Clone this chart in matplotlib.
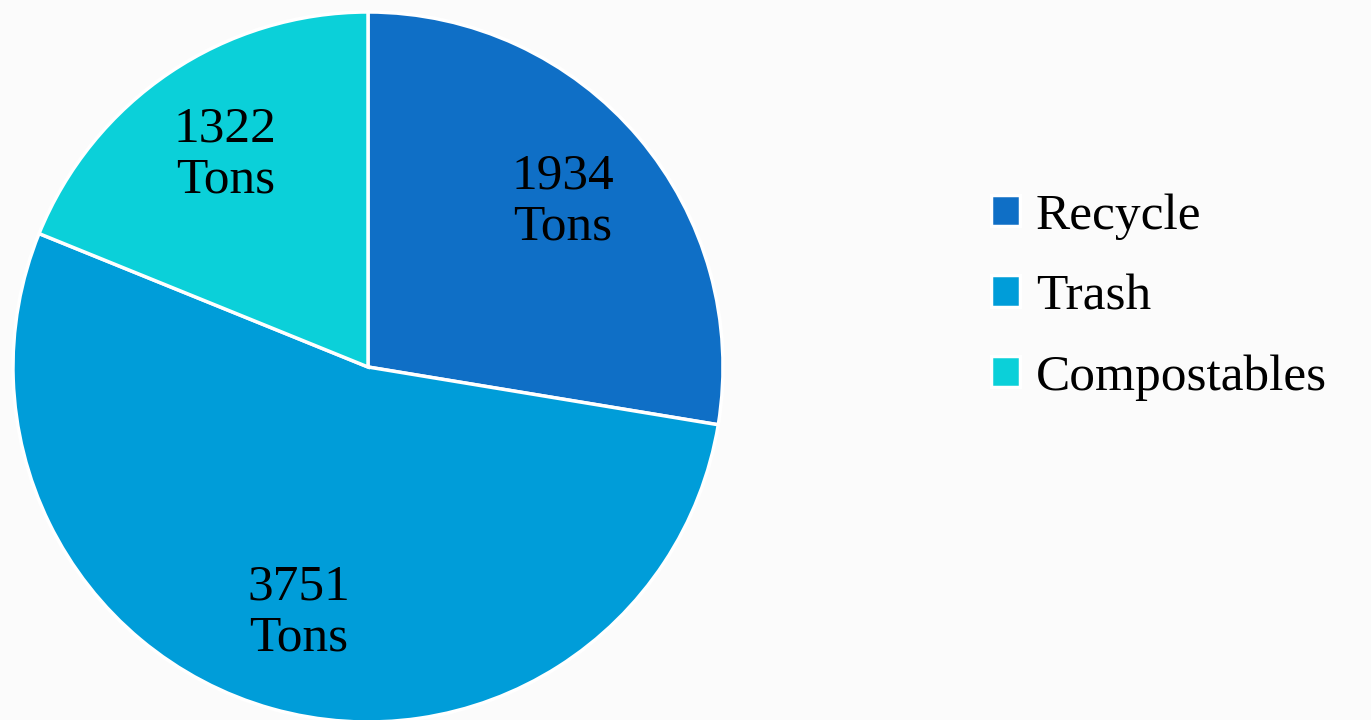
import matplotlib
matplotlib.use("Agg")
import matplotlib.pyplot as plt

# Datos del gráfico
categorias = ["Recycle", "Trash", "Compostables"]
toneladas = [1934, 3751, 1322]
colores = ["#0F6FC6", "#009DD9", "#0BD0D9"]

plt.rcParams["font.family"] = ["Liberation Serif", "DejaVu Serif"]

total = sum(toneladas)


def etiqueta(pct):
    return f"{round(pct * total / 100)}\nTons"


fig = plt.figure(figsize=(13.71, 7.2), dpi=100, facecolor="#fbfbfb")
ax = fig.add_axes([13 / 1371, -2 / 720, 710 / 1371, 710 / 720])
ax.set_facecolor("none")

wedges, textos, autotextos = ax.pie(
    toneladas,
    colors=colores,
    startangle=90,
    counterclock=False,
    autopct=etiqueta,
    pctdistance=0.72,
    wedgeprops={"edgecolor": "white", "linewidth": 2.5},
    textprops={"fontsize": 37, "color": "black", "linespacing": 1.12},
)
ax.set_xlim(-1, 1)
ax.set_ylim(-1, 1)
ax.set_aspect("equal")
ax.axis("off")

fig.legend(
    wedges, categorias,
    loc="center left",
    bbox_to_anchor=(991 / 1371, 1 - 297 / 720),
    frameon=False,
    fontsize=37,
    handlelength=0.57,
    handleheight=0.57,
    handletextpad=0.3,
    labelspacing=0.66,
    borderpad=0,
    borderaxespad=0,
)

fig.savefig("out.png", dpi=100, facecolor=fig.get_facecolor())
